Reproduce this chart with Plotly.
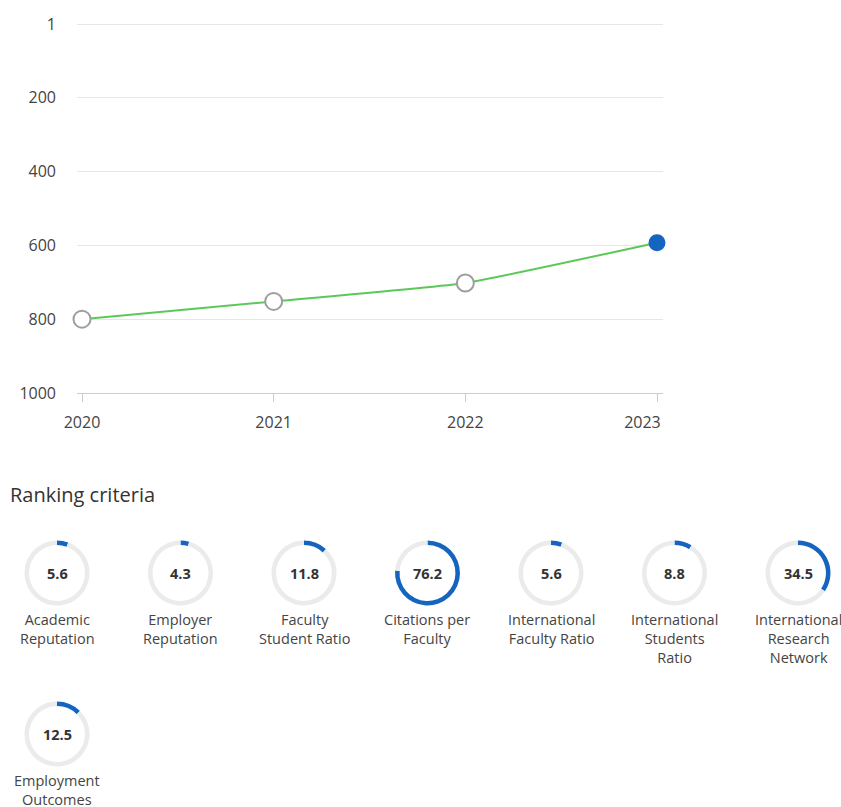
import plotly.graph_objects as go

# ---- data ----
years = [2020, 2021, 2022, 2023]
ranks = [800, 752, 702, 593]
y_ticks = [1, 200, 400, 600, 800, 1000]
criteria = [
    "Academic<br>Reputation",
    "Employer<br>Reputation",
    "Faculty<br>Student Ratio",
    "Citations per<br>Faculty",
    "International<br>Faculty Ratio",
    "International<br>Students<br>Ratio",
    "International<br>Research<br>Network",
    "Employment<br>Outcomes",
]
scores = [5.6, 4.3, 11.8, 76.2, 5.6, 8.8, 34.5, 12.5]
max_score = 100

W, H = 841, 807
FONT = "Open Sans"
BLUE = "#1565c0"
GREEN = "#5cc85a"

fig = go.Figure()

n = len(years)
fig.add_trace(go.Scatter(
    x=years, y=ranks, mode="lines+markers",
    line=dict(color=GREEN, width=2, shape="spline", smoothing=0.4),
    marker=dict(
        size=[17] * (n - 1) + [15], opacity=1,
        color=["white"] * (n - 1) + [BLUE],
        line=dict(color=["#9e9e9e"] * (n - 1) + [BLUE], width=2),
    ),
    hoverinfo="skip", showlegend=False, cliponaxis=False,
))

# ---- gauges ----
R = 32.5
per_row = 7
x0, dx = 57, 123.5
y0, dy = 573, 161
annotations = []
for i, (name, s) in enumerate(zip(criteria, scores)):
    cx = x0 + dx * (i % per_row)
    cy = y0 + dy * (i // per_row)
    fig.add_trace(go.Pie(
        values=[s, max_score - s], sort=False, direction="clockwise", rotation=0,
        hole=0.86, marker=dict(colors=[BLUE, "#ebebeb"], line=dict(width=0)),
        textinfo="none", hoverinfo="skip", showlegend=False,
        domain=dict(x=[(cx - R) / W, (cx + R) / W], y=[(H - cy - R) / H, (H - cy + R) / H]),
    ))
    annotations.append(dict(
        x=cx / W, y=(H - cy) / H, xref="paper", yref="paper", showarrow=False,
        text=f"{s}", xanchor="center", yanchor="middle",
        font=dict(family=FONT, size=14.5, color="#333", weight=700),
    ))
    annotations.append(dict(
        x=cx / W, y=(H - (cy + 35)) / H, xref="paper", yref="paper", showarrow=False,
        text=name, xanchor="center", yanchor="top", align="center",
        font=dict(family=FONT, size=14.5, color="#444"),
    ))

annotations.append(dict(
    x=8 / W, y=(H - 494) / H, xref="paper", yref="paper", showarrow=False,
    text="Ranking criteria", xanchor="left", yanchor="middle",
    font=dict(family=FONT, size=20, color="#333"),
))

# last x label is kept inside the plot edge (shifted left), as in the reference
x_ticktext = [str(y) for y in years]
x_ticktext[-1] = x_ticktext[-1] + "&nbsp;" * 7

px_per_year = (657 - 82) / 3
units_per_px = (1000 - 1) / (393 - 24)
fig.update_layout(
    width=W, height=H,
    margin=dict(l=0, r=0, t=0, b=0, pad=0),
    paper_bgcolor="white", plot_bgcolor="white",
    font=dict(family=FONT, color="#444"),
    annotations=annotations,
    xaxis=dict(
        domain=[77 / W, 663 / W],
        range=[2020 - 5 / px_per_year, 2023 + 6 / px_per_year],
        tickvals=years, ticktext=x_ticktext,
        ticks="outside", ticklen=8, tickcolor="#cccccc", tickwidth=1,
        showline=True, linecolor="#cccccc", linewidth=1,
        showgrid=False, zeroline=False, automargin=False,
        ticklabelstandoff=7,
        tickfont=dict(family=FONT, size=16, color="#444"),
        fixedrange=True,
    ),
    yaxis=dict(
        domain=[(H - 393) / H, (H - 14) / H],
        range=[1000, 1 - 10 * units_per_px],
        tickvals=y_ticks, ticktext=[str(v) for v in y_ticks],
        showgrid=True, gridcolor="#e6e6e6", gridwidth=1,
        showline=False, zeroline=False, ticks="", automargin=False,
        ticklabelstandoff=20,
        tickfont=dict(family=FONT, size=16, color="#444"),
        fixedrange=True,
    ),
)

fig.write_html("out.html")
